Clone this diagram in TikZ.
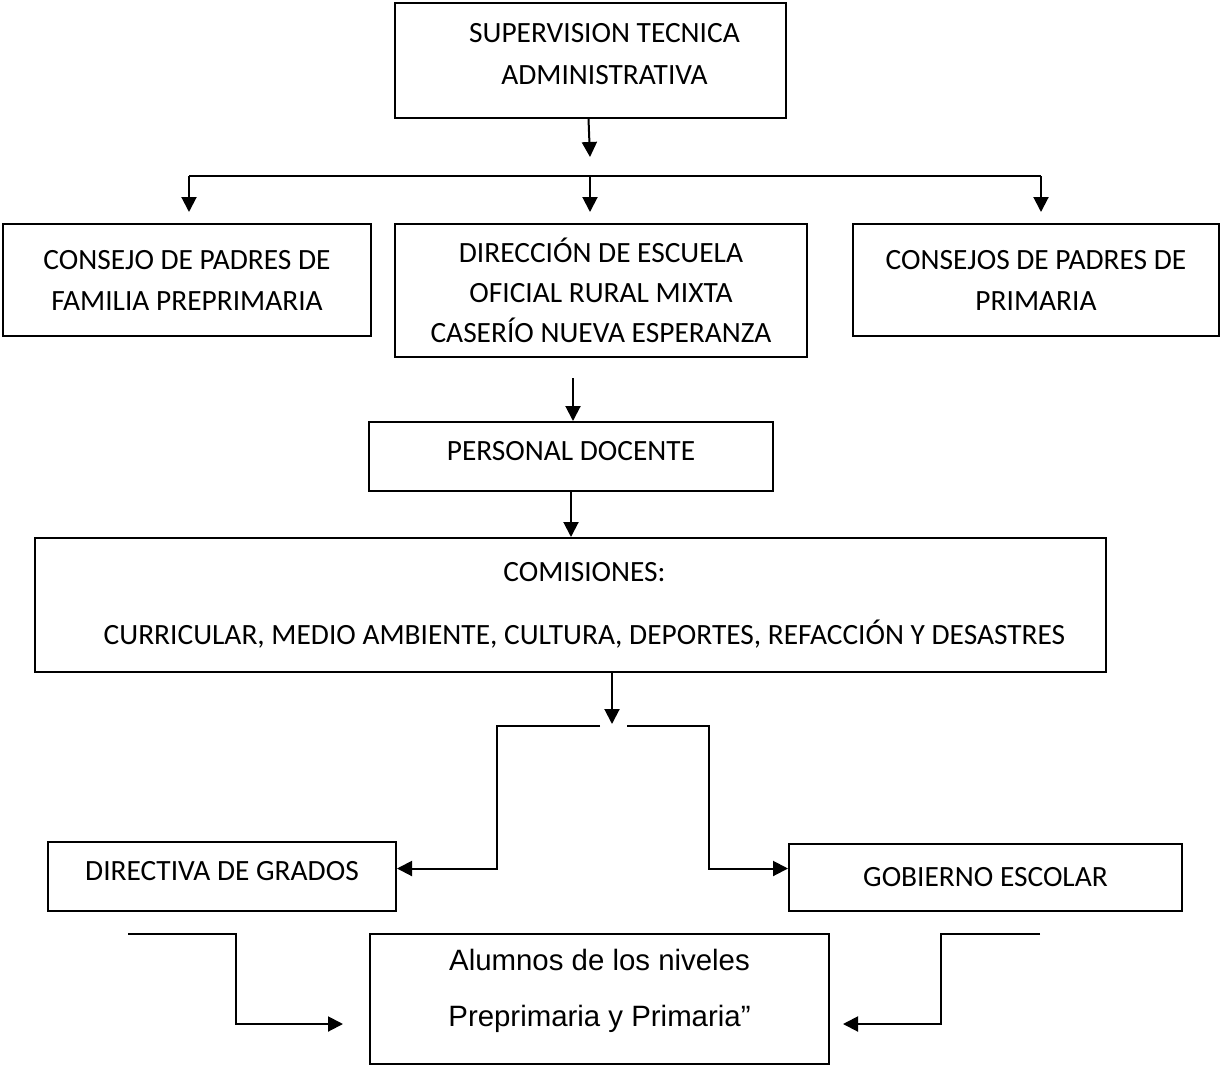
\documentclass[tikz,border=0pt]{standalone}
\usepackage{fontspec}
\setmainfont{Carlito}
\newfontfamily\arialfont{Liberation Sans}
\usetikzlibrary{arrows.meta}
\newcommand{\ind}{\hspace*{14pt}}

\begin{document}
\begin{tikzpicture}[x=0.5pt, y=-0.5pt, >={Triangle[length=7.5pt,width=7.5pt]},
   box/.style={draw, rectangle, line width=1pt, align=center, inner sep=0pt,
      font=\fontsize{14.7}{20.5}\selectfont},
   link/.style={line width=1pt}]
   \useasboundingbox (0,0) rectangle (1221,1066);

   \node (sup) at (590.5,60.5) [box, minimum width=195.5pt, minimum height=57.5pt,
      font=\fontsize{14.7}{21}\selectfont, text depth=7pt]
      {\ind SUPERVISION TECNICA\\\ind ADMINISTRATIVA};
   \node (cpre) at (187,280) [box, minimum width=184pt, minimum height=56pt]
      {CONSEJO DE PADRES DE\\FAMILIA PREPRIMARIA};
   \node (dir) at (601,290.5) [box, minimum width=206pt, minimum height=66.5pt,
      font=\fontsize{14.7}{20}\selectfont]
      {DIRECCIÓN DE ESCUELA\\OFICIAL RURAL MIXTA\\CASERÍO NUEVA ESPERANZA};
   \node (cpri) at (1036,280) [box, minimum width=183pt, minimum height=56pt]
      {CONSEJOS DE PADRES DE\\PRIMARIA};
   \node (doc) at (571,456.5) [box, minimum width=202pt, minimum height=34.5pt, text depth=5.5pt]
      {PERSONAL DOCENTE};
   \node (com) at (570.5,605) [box, minimum width=535.5pt, minimum height=67pt,
      font=\fontsize{14.7}{31.5}\selectfont]
      {\ind COMISIONES:\\\ind CURRICULAR, MEDIO AMBIENTE, CULTURA, DEPORTES, REFACCIÓN Y DESASTRES};
   \node (dirg) at (222,876.5) [box, minimum width=174pt, minimum height=34.5pt, text depth=5.5pt]
      {DIRECTIVA DE GRADOS};
   \node (gob) at (985.5,877.5) [box, minimum width=196.5pt, minimum height=33.5pt]
      {GOBIERNO ESCOLAR};
   \node (alu) at (599.5,999) [box, minimum width=229.5pt, minimum height=65pt,
      font=\arialfont\fontsize{14.7}{28}\selectfont, text depth=11pt]
      {Alumnos de los niveles\\Preprimaria y Primaria”};

   \coordinate (t0) at (590,157);
   \coordinate (bl) at (189,176);
   \coordinate (bm) at (590,176);
   \coordinate (br) at (1041,176);
   \coordinate (s1) at (573,378);
   \coordinate (s2) at (612,724);
   \coordinate (l1) at (600,726);
   \coordinate (l2) at (497,726);
   \coordinate (r1) at (627,726);
   \coordinate (r2) at (709,726);
   \coordinate (ba) at (128,934);
   \coordinate (bb) at (236,934);
   \coordinate (ta) at (343,1024);
   \coordinate (bc) at (1040,934);
   \coordinate (bd) at (941,934);
   \coordinate (tb) at (843,1024);

   \draw[link,->] ([xshift=-1pt]sup.south) -- (t0);
   \draw[link] (bl) -- (br);
   \draw[link,->] (bl) -- ([yshift=5.5pt]bl |- cpre.north);
   \draw[link,->] (bm) -- ([yshift=5.5pt]bm |- dir.north);
   \draw[link,->] (br) -- ([yshift=5.5pt]br |- cpri.north);
   \draw[link,->] (s1) -- (s1 |- doc.north);
   \draw[link,->] (doc.south) -- (doc.south |- com.north);
   \draw[link,->] (s2 |- com.south) -- (s2);
   \draw[link,->] (l1) -- (l2) |- ([yshift=4pt]dirg.east);
   \draw[link,->] (r1) -- (r2) |- ([yshift=4.5pt]gob.west);
   \draw[link,->] (ba) -- (bb) |- (ta);
   \draw[link,->] (bc) -- (bd) |- (tb);

\end{tikzpicture}
\end{document}
